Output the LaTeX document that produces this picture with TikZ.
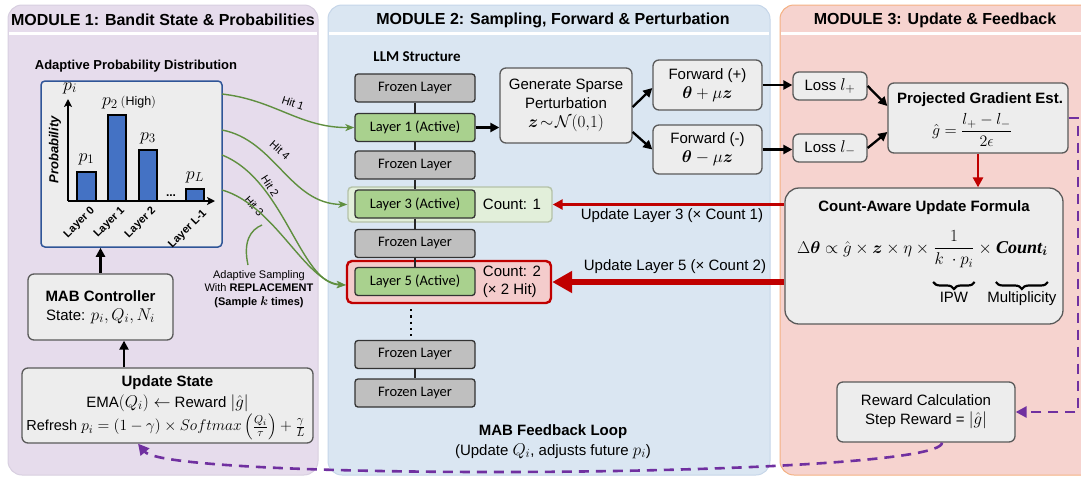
\RequirePackage{fix-cm}
\documentclass[tikz,border=0pt]{standalone}
\usepackage{amsmath}
\usepackage{fontspec}
\setmainfont{Liberation Sans}
\newfontfamily\carl{Carlito}
\newfontfamily\serifb{Liberation Serif}
\usetikzlibrary{arrows.meta,calc,decorations.pathreplacing}
\newcommand\fsz[2]{\fontsize{#1}{#2}\selectfont}
\DeclareMathSizes{11}{12.5}{9}{7}
\DeclareMathSizes{13}{15}{11}{8}
\DeclareMathSizes{14}{16}{12}{9}
\DeclareMathSizes{14.5}{15.5}{11.5}{8.5}
\DeclareMathSizes{15}{17}{12.5}{9.5}
\DeclareMathSizes{16}{18}{13}{10}
\definecolor{mpurp}{HTML}{E6DCEC}
\definecolor{mpurpb}{HTML}{D8CFE0}
\definecolor{mblue}{HTML}{DAE6F2}
\definecolor{mblueb}{HTML}{C6D6E9}
\definecolor{mred}{HTML}{F6D3CF}
\definecolor{mredb}{HTML}{F4B183}
\definecolor{boxg}{HTML}{EDEDED}
\definecolor{boxb}{HTML}{5A5A5A}
\definecolor{frz}{HTML}{BFBFBF}
\definecolor{act}{HTML}{A9D18E}
\definecolor{cthreef}{HTML}{E2EFDA}
\definecolor{cthreeb}{HTML}{B4C2A8}
\definecolor{cfivef}{HTML}{F4CCCC}
\definecolor{dred}{HTML}{C00000}
\definecolor{purp}{HTML}{7030A0}
\definecolor{grn}{HTML}{5F8F3F}
\definecolor{chartb}{HTML}{2F5597}
\definecolor{barc}{HTML}{4472C4}
\begin{document}
\begin{tikzpicture}[x=1pt,y=-1pt,
  panelst/.style={rounded corners=14pt, line width=1pt},
  hdr/.style={font=\bfseries\fsz{16}{19}},
  gbox/.style={draw=boxb, fill=boxg, line width=1.3pt, rounded corners=6pt, align=center, font=\fsz{15}{19}, inner sep=0pt},
  layerbase/.style={draw=black!80, line width=1.3pt, rounded corners=3pt, minimum width=120pt, minimum height=28pt, inner sep=0pt, font=\carl\fsz{14.5}{16}},
  frozen/.style={layerbase, fill=frz},
  active/.style={layerbase, fill=act},
  blk/.style={line width=2.3pt, -{Triangle[length=9pt,width=9pt]}},
  link/.style={line width=1.8pt, black!85},
  hit/.style={grn, line width=1.4pt, -{Stealth[length=9pt,width=7pt,inset=2.5pt]}},
  hitlab/.style={font=\fsz{11}{13}, inner sep=0pt},
  redthin/.style={dred, line width=2.5pt, -{Triangle[length=10pt,width=10pt]}},
  redthick/.style={dred, line width=6pt, -{Triangle[length=20pt,width=21pt]}},
  pdash/.style={purp, line width=2.6pt, dash pattern=on 10pt off 7pt, -{Triangle[length=11pt,width=11pt]}},
  bar/.style={fill=barc, draw=black, line width=1.3pt},
  axl/.style={font=\bfseries\fsz{11}{13}, rotate=45, anchor=east, inner sep=1pt},
  txt/.style={font=\fsz{15}{18}, inner sep=1pt},
  mf/.style={font=\fsz{15}{18}, inner sep=0pt, anchor=base west},
  brc/.style={decorate, decoration={brace, amplitude=7pt}, line width=2.2pt}
]
\useasboundingbox (0,0) rectangle (1081,477);
\fill[white] (0,0) rectangle (1081,477);

% ---------- panels ----------
\draw[panelst, fill=mpurp, draw=mpurpb] (8,5) rectangle (318,475);
\draw[panelst, fill=mblue, draw=mblueb] (328,5) rectangle (770,475);
\draw[panelst, fill=mred, draw=mredb] (780,5) rectangle (1120,475);
\draw[white, line width=3pt] (9,33) -- (317,33);
\draw[white, line width=3pt] (329,33) -- (769,33);
\draw[white, line width=3pt] (781,33) -- (1081,33);
\node[hdr] (h1) at (163,20) {MODULE 1: Bandit State \& Probabilities};
\node[hdr] (h2) at (553,20) {MODULE 2: Sampling, Forward \& Perturbation};
\node[hdr] (h3) at (935,20) {MODULE 3: Update \& Feedback};

% ---------- module 1 ----------
\node[font=\bfseries\fsz{13}{15}] (apd) at (136,66) {Adaptive Probability Distribution};
\node[draw=chartb, fill=boxg, line width=1.5pt, rounded corners=4pt, minimum width=181pt, minimum height=166pt] (chart) at (131.5,164) {};
\draw[line width=1.6pt, -{Stealth[length=8pt,width=8pt,inset=2pt]}] (68,201) -- (68,99);
\draw[line width=1.6pt, -{Stealth[length=8pt,width=8pt,inset=2pt]}] (68,201) -- (215,201);
\draw[bar] (77,201) rectangle (96,172);
\draw[bar] (108,201) rectangle (126,115);
\draw[bar] (139,201) rectangle (157,150);
\draw[bar] (186,201) rectangle (204,189);
\node[font=\fsz{16}{18}] (pi) at (70,88) {$p_i$};
\node[font=\fsz{16}{18}] (p1) at (86.5,159) {$p_1$};
\node[font=\fsz{16}{18}] (p2) at (129,103) {$p_2\,\hbox{\fsz{11}{13}$\mathrm{(High)}$}$};
\node[font=\fsz{16}{18}] (p3) at (148,138) {$p_3$};
\node[font=\fsz{16}{18}] (pL) at (195,177) {$p_L$};
\node[font=\bfseries\itshape\fsz{13}{15}, rotate=90] (prob) at (55,150) {Probability};
\node[font=\bfseries\fsz{12}{14}] (dots) at (171,196) {...};
\node[axl] (x0) at (94,208) {Layer 0};
\node[axl] (x1) at (124,208) {Layer 1};
\node[axl] (x2) at (155,208) {Layer 2};
\node[axl] (xL) at (206,211) {Layer L-1};

\node[gbox, minimum width=145pt, minimum height=66pt] (mab) at (100.5,307)
  {\textbf{MAB Controller}\\State: $p_i, Q_i, N_i$};
\node[gbox, minimum width=291pt, minimum height=75pt] (upd) at (167.5,405.5) {};
\node[font=\bfseries\fsz{15}{18}, inner sep=1pt] (updt) at (167.5,383) {Update State};
\node[txt] (upd2) at (167.5,403) {EMA$(Q_i)\leftarrow$ Reward $|\hat g|$};
\node[font=\fsz{14.5}{18}, inner sep=1pt] (upd3) at (166,427)
  {Refresh $p_i=(1-\gamma)\times Softmax\left(\frac{Q_i}{\tau}\right)+\frac{\gamma}{L}$};
\coordinate (ua) at (124,0);
\draw[blk] (mab.north) -- (mab.north |- chart.south);
\draw[blk] (upd.north -| ua) -- (mab.south -| ua);

\node[align=center, font=\fsz{11}{13.5}] (asl) at (259,289)
  {Adaptive Sampling\\With \textbf{REPLACEMENT}\\\textbf{(Sample $\boldsymbol{k}$ times)}};
\coordinate (asc) at (262,225);
\draw[grn, line width=1.4pt] (248,265) .. controls (243,242) and (250,230) .. (asc);

% ---------- module 2 ----------
\node[font=\carl\bfseries\fsz{15}{17}] (llm) at (417,57) {LLM Structure};
\node[draw=cthreeb, fill=cthreef, line width=1.4pt, rounded corners=4pt, minimum width=204pt, minimum height=35pt] (c3) at (450,204.5) {};
\node[draw=dred, fill=cfivef, line width=2.4pt, rounded corners=5pt, minimum width=204pt, minimum height=42pt] (c5) at (449,282) {};
\node[frozen] (f1) at (415,88) {Frozen Layer};
\node[active] (l1) at (415,127.5) {Layer 1 (Active)};
\node[frozen] (f2) at (415,165) {Frozen Layer};
\node[active] (l3) at (415,204) {Layer 3 (Active)};
\node[frozen] (f3) at (415,243.5) {Frozen Layer};
\node[active] (l5) at (415,281.5) {Layer 5 (Active)};
\node[frozen] (f4) at (415,354.5) {Frozen Layer};
\node[frozen] (f5) at (415,393) {Frozen Layer};
\draw[link] (f1.south) -- (l1.north);
\draw[link] (l1.south) -- (f2.north);
\draw[link] (f2.south) -- (l3.north);
\draw[link] (l3.south) -- (f3.north);
\draw[link] (f3.south) -- (l5.north);
\draw[link] (f4.south) -- (f5.north);
\coordinate (dx) at (411,0);
\draw[line width=2.2pt, dash pattern=on 2.2pt off 4pt, shorten <=5pt, shorten >=4pt] (c5.south -| dx) -- (f4.north -| dx);
\node[txt] (cnt1) at (512,204) {Count: 1};
\node[txt, align=left] (cnt2) at (512,282) {Count: 2\\(\texttimes{} 2 Hit)};

\node[gbox, minimum width=132pt, minimum height=75pt] (gen) at (566,105.5)
  {Generate Sparse\\Perturbation\\$\boldsymbol{z}\!\sim\!\mathcal{N}(0{,}1)$};
\node[gbox, minimum width=109pt, minimum height=50pt] (fp) at (707.5,85)
  {Forward (+)\\$\boldsymbol{\theta}+\mu\boldsymbol{z}$};
\node[gbox, minimum width=109pt, minimum height=49pt] (fm) at (707.5,149.5)
  {Forward (-)\\$\boldsymbol{\theta}-\mu\boldsymbol{z}$};
\draw[blk] (l1.east) -- (l1.east -| gen.west);
\draw[blk] ($(gen.east)+(0,1.5)$) -- ($(fp.west)+(0,3)$);
\draw[blk] ($(gen.east)+(0,26.5)$) -- (fm.west);

\node[font=\bfseries\fsz{15}{18}] (fbl) at (553,432) {MAB Feedback Loop};
\node[txt] (fbl2) at (553,451) {(Update $Q_i$, adjusts future $p_i$)};

% hits
\node[hitlab, rotate=-18] (hl1) at (293,103) {Hit 1};
\node[hitlab, rotate=-42] (hl4) at (280,150) {Hit 4};
\node[hitlab, rotate=-57] (hl2) at (270,186) {Hit 2};
\node[hitlab, rotate=-48] (hl3) at (254,206) {Hit 3};
\coordinate (s1) at (222,94);
\coordinate (s4) at (222,130);
\coordinate (s2) at (222,155);
\coordinate (s3) at (222,190);
\draw[hit] (s1) .. controls (275,100) and (300,128) .. (l1.west);
\draw[hit] (s4) .. controls (275,140) and (290,204) .. (c3.west);
\draw[hit] (s2) .. controls (285,180) and (300,284) .. ($(c5.west)+(0,3)$);
\draw[hit] (s3) .. controls (275,205) and (305,282) .. ($(c5.west)+(0,3)$);

% ---------- module 3 ----------
\node[gbox, minimum width=74pt, minimum height=28pt] (lp) at (830,86) {Loss $l_+$};
\node[gbox, minimum width=74pt, minimum height=28pt] (lm) at (830,148) {Loss $l_-$};
\node[gbox, minimum width=180pt, minimum height=70pt] (pg) at (978,118) {};
\node[font=\bfseries\fsz{15}{18}, inner sep=0pt] (pgt) at (980,100) {Projected Gradient Est.};
\node[font=\fsz{14}{16}, inner sep=0pt] (pgf) at (972,130) {$\hat g=\dfrac{l_+-l_-}{2\epsilon}$};
\draw[blk] (fp.east) -- (fp.east -| lp.west);
\draw[blk] (fm.east) -- (fm.east -| lm.west);
\draw[blk] (lp.east) -- ($(pg.west)+(0,-12)$);
\draw[blk] (lm.east) -- ($(pg.west)+(0,14)$);

\node[gbox, minimum width=278pt, minimum height=136pt, rounded corners=14pt] (ca) at (924,256) {};
\node[font=\bfseries\fsz{15}{18}, inner sep=1pt] (cat) at (924,208) {Count-Aware Update Formula};
\node[mf] (fa) at (797,253) {$\Delta\boldsymbol{\theta}\propto\hat g\times\boldsymbol{z}\times\eta\times{}$};
\node[mf] (fb) at (fa.base east) {$\dfrac{1}{k\ \cdot p_i}$};
\node[mf] (fc) at (fb.base east) {${}\times{}$};
\node[mf, font=\serifb\bfseries\itshape\fsz{18}{20}] (fd) at (fc.base east) {Count$_{\boldsymbol{i}}$};
\coordinate (by) at (0,282);
\draw[brc] (fb.east |- by) -- (fb.west |- by);
\draw[brc] (fd.east |- by) -- (fd.west |- by);
\node[txt, anchor=north] (ipw) at ($(fb.south |- by)+(0,9)$) {IPW};
\node[txt, anchor=north] (mult) at ($(fd.south |- by)+(0,8)$) {Multiplicity};
\draw[redthin] (pg.south) -- (pg.south |- ca.north);
\draw[redthin] (ca.west |- c3.east) -- (c3.east);
\draw[redthick] (ca.west |- c5.east) -- (c5.east);
\node[txt] (u3) at (672,216) {Update Layer 3 (\texttimes{} Count 1)};
\node[txt] (u5) at (675,267) {Update Layer 5 (\texttimes{} Count 2)};

\node[gbox, minimum width=178pt, minimum height=60pt] (rw) at (926,412)
  {Reward Calculation\\Step Reward = $|\hat g|$};
\coordinate (pr) at (1078,0);
\draw[pdash] (pg.east) -- (pg.east -| pr) -- (rw.east -| pr) -- (rw.east);
\draw[pdash] ($(rw.south)+(16,0)$) .. controls (942,478) and (170,482) .. ($(upd.south)+(-29.5,0)$);
\end{tikzpicture}
\end{document}
